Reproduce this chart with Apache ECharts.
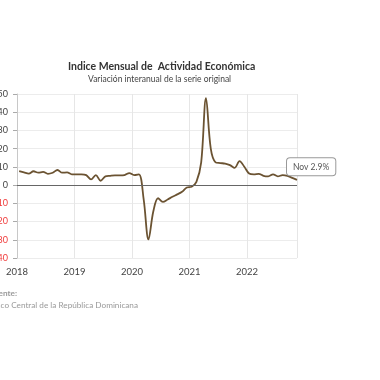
<!DOCTYPE html>
<html><head><meta charset="utf-8">
<script src="https://cdn.jsdelivr.net/npm/echarts@6/dist/echarts.min.js"></script>
<style>html,body{margin:0;padding:0;background:#fff}#c{width:380px;height:380px}</style>
</head><body><div id="c"></div>
<script>
const startYear = 2018;
const values2018 = [7.7, 7.0, 6.3, 7.6, 6.8, 7.3, 6.2, 6.8, 8.3, 6.8, 7.0, 5.9];
const values2019 = [5.9, 5.9, 5.5, 3.1, 5.5, 2.4, 4.8, 5.1, 5.3, 5.3, 5.5, 6.6];
const values2020 = [5.5, 5.9, -8.0, -29.8, -14.5, -7.2, -9.2, -7.9, -6.4, -5.1, -3.7, -1.3];
const values2021 = [-0.9, 1.8, 12.5, 47.7, 20.0, 12.5, 12.1, 11.8, 11.0, 9.5, 13.2, 10.1];
const values2022 = [6.4, 5.9, 6.2, 5.1, 4.8, 5.9, 4.8, 5.5, 5.1, 4.0, 2.9];
const yTicks = [-40, -30, -20, -10, 0, 10, 20, 30, 40, 50];
const yearLabels = [2018, 2019, 2020, 2021, 2022];
const endLabelText = 'Nov 2.9%';

const allYears = [values2018, values2019, values2020, values2021, values2022];
const data = [];
allYears.forEach((arr, yi) => arr.forEach((v, m) => data.push([startYear + yi + (m + 0.45) / 12, v])));
const lastX = data[data.length - 1][0];

const chart = echarts.init(document.getElementById('c'));
const font = 'Lato, "Noto Sans", sans-serif';
chart.setOption({
  animation: false,
  title: [{
    text: 'Indice Mensual de  Actividad Económica',
    left: 63, top: 56,
    textStyle: {fontFamily: font, fontSize: 10.5, fontWeight: 'bold', color: '#333'}
  }, {
    text: 'Variación interanual de la serie original',
    left: 83, top: 70,
    textStyle: {fontFamily: font, fontSize: 8.5, fontWeight: 'normal', color: '#444'}
  }],
  grid: {left: 17, right: 83, top: 94, bottom: 122, containLabel: false, outerBoundsMode: 'none'},
  xAxis: {
    type: 'value', min: startYear, max: lastX, interval: 1,
    axisLine: {show: true, lineStyle: {color: '#e0e0e0'}},
    axisTick: {show: false},
    axisLabel: {
      fontFamily: font, fontSize: 9.5, color: '#444', margin: 9, showMaxLabel: false,
      formatter: v => yearLabels.includes(v) ? String(v) : ''
    },
    splitLine: {show: true, lineStyle: {color: '#e6e6e6'}}
  },
  yAxis: {
    type: 'value', min: yTicks[0], max: yTicks[yTicks.length - 1], interval: 10,
    axisLine: {show: true, lineStyle: {color: '#c8c8c8'}},
    axisTick: {show: true, length: 4, lineStyle: {color: '#aaa'}},
    axisLabel: {
      fontFamily: font, fontSize: 9, margin: 9,
      color: v => (v < 0 ? '#f03c3c' : '#444')
    },
    splitLine: {show: true, lineStyle: {color: '#ececec'}}
  },
  graphic: [
    {type: 'text', x: 17, y: 293, style: {text: 'Fuente:', fontFamily: font, fontSize: 8.2, fontWeight: 'bold', fill: '#999', align: 'right', textAlign: 'right', verticalAlign: 'middle', textVerticalAlign: 'middle'}},
    {type: 'text', x: 138, y: 305, style: {text: 'Banco Central de la República Dominicana', fontFamily: font, fontSize: 8.2, fill: '#999', align: 'right', textAlign: 'right', verticalAlign: 'middle', textVerticalAlign: 'middle'}}
  ],
  series: [{
    type: 'line', data: data, smooth: 0.35, showSymbol: false,
    lineStyle: {color: '#6b5332', width: 1.8},
    endLabel: {
      show: true, formatter: endLabelText, fontFamily: font, fontSize: 8.5, color: '#555',
      backgroundColor: '#fff', borderColor: '#999', borderWidth: 1, borderRadius: 3,
      padding: [4, 6], offset: [-18, -13]
    },
    markLine: {
      silent: true, symbol: 'none', label: {show: false},
      lineStyle: {color: '#666', width: 1, type: 'solid'},
      data: [{yAxis: 0}]
    },
    z: 3
  }]
});
</script></body></html>
